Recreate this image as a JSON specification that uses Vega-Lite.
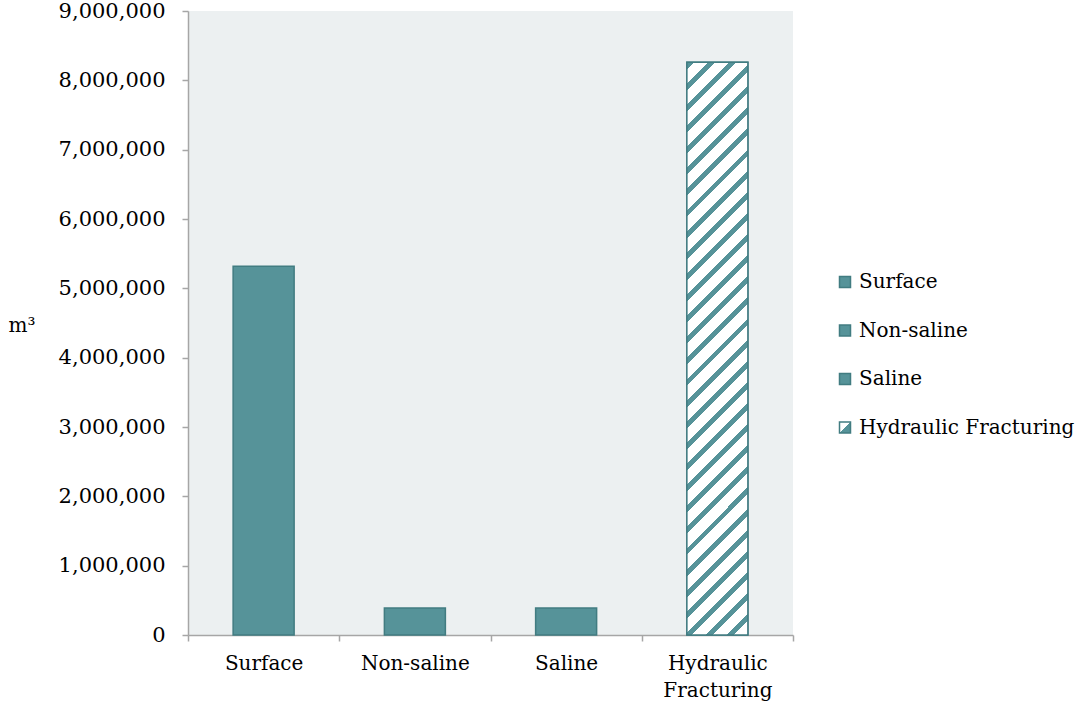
{
  "$schema": "https://vega.github.io/schema/vega-lite/v6.json",
  "autosize": "none",
  "width": 605,
  "height": 624,
  "padding": {"left": 188, "top": 11, "right": 290, "bottom": 73},
  "background": "white",
  "data": {
    "values": [
      {"cat": "Surface", "value": 5320000},
      {"cat": "Non-saline", "value": 390000},
      {"cat": "Saline", "value": 390000},
      {"cat": "Hydraulic Fracturing", "value": 8260000}
    ]
  },
  "encoding": {
    "x": {
      "field": "cat", "type": "nominal", "sort": null,
      "scale": {"domain": ["Surface", "Non-saline", "Saline", "Hydraulic Fracturing"], "paddingInner": 0, "paddingOuter": 0},
      "axis": {
        "title": null, "labelAngle": 0, "tickBand": "extent",
        "domainColor": "#a6a6a6", "domainWidth": 1.5, "tickColor": "#a6a6a6", "tickWidth": 1.5, "tickSize": 6,
        "labelFont": "DejaVu Serif", "labelFontSize": 20, "labelColor": "#000000", "labelPadding": 12,
        "labelLineHeight": 27,
        "labelExpr": "datum.label == 'Hydraulic Fracturing' ? ['Hydraulic', 'Fracturing'] : datum.label"
      }
    },
    "y": {
      "field": "value", "type": "quantitative",
      "scale": {"domain": [0, 9000000], "nice": false},
      "axis": {
        "values": [0, 1000000, 2000000, 3000000, 4000000, 5000000, 6000000, 7000000, 8000000, 9000000],
        "format": ",.0f", "grid": false,
        "domainColor": "#a6a6a6", "domainWidth": 1.5, "tickColor": "#a6a6a6", "tickWidth": 1.5, "tickSize": 6,
        "labelFont": "DejaVu Serif", "labelFontSize": 21, "labelColor": "#000000", "labelPadding": 17,
        "title": "m³", "titleAngle": 0, "titleX": -180, "titleY": 314, "titleAlign": "left", "titleBaseline": "middle",
        "titleFont": "DejaVu Serif", "titleFontSize": 20, "titleFontWeight": "normal", "titleColor": "#000000"
      }
    }
  },
  "layer": [
    {
      "mark": {"type": "bar", "size": 61, "strokeWidth": 1.5},
      "encoding": {
        "fill": {
          "field": "cat", "type": "nominal", "legend": null,
          "scale": {
            "domain": ["Hydraulic Fracturing", "Saline", "Non-saline", "Surface"],
            "range": ["#569399", "#569399", "#569399", "#569399"]
          }
        },
        "stroke": {
          "field": "cat", "type": "nominal",
          "scale": {
            "domain": ["Surface", "Non-saline", "Saline", "Hydraulic Fracturing"],
            "range": ["#417c81", "#417c81", "#417c81", "#417c81"]
          },
          "legend": {
            "title": null, "orient": "none", "legendX": 647, "legendY": 261,
            "symbolType": "square", "symbolSize": 121, "symbolStrokeWidth": 1.5,
            "symbolFillColor": {"expr": "datum.value === 'Hydraulic Fracturing' ? {gradient: 'linear', x1: 0, y1: 0, x2: 1, y2: 1, stops: [{offset: 0, color: '#ffffff'}, {offset: 0.5, color: '#ffffff'}, {offset: 0.5, color: '#569399'}, {offset: 1, color: '#569399'}]} : '#569399'"},
            "labelFont": "DejaVu Serif", "labelFontSize": 20, "labelColor": "#000000", "labelOffset": 4,
            "rowPadding": 28.5, "padding": 0, "labelLimit": 400
          }
        }
      }
    },
    {
      "transform": [{"filter": "datum.cat == 'Hydraulic Fracturing'"}],
      "mark": {
        "type": "bar", "size": 61, "stroke": "#417c81", "strokeWidth": 1.5,
        "fill": {
          "gradient": "linear", "x1": 0, "y1": 0, "x2": 0.11654, "y2": 1.09403,
          "stops": [
            {"offset": 0, "color": "#569399"}, {"offset": 0.011, "color": "#569399"}, {"offset": 0.011, "color": "#ffffff"}, {"offset": 0.0333, "color": "#ffffff"},
            {"offset": 0.0333, "color": "#569399"}, {"offset": 0.0443, "color": "#569399"}, {"offset": 0.0443, "color": "#ffffff"}, {"offset": 0.0667, "color": "#ffffff"},
            {"offset": 0.0667, "color": "#569399"}, {"offset": 0.0777, "color": "#569399"}, {"offset": 0.0777, "color": "#ffffff"}, {"offset": 0.1, "color": "#ffffff"},
            {"offset": 0.1, "color": "#569399"}, {"offset": 0.111, "color": "#569399"}, {"offset": 0.111, "color": "#ffffff"}, {"offset": 0.1333, "color": "#ffffff"},
            {"offset": 0.1333, "color": "#569399"}, {"offset": 0.1443, "color": "#569399"}, {"offset": 0.1443, "color": "#ffffff"}, {"offset": 0.1667, "color": "#ffffff"},
            {"offset": 0.1667, "color": "#569399"}, {"offset": 0.1777, "color": "#569399"}, {"offset": 0.1777, "color": "#ffffff"}, {"offset": 0.2, "color": "#ffffff"},
            {"offset": 0.2, "color": "#569399"}, {"offset": 0.211, "color": "#569399"}, {"offset": 0.211, "color": "#ffffff"}, {"offset": 0.2333, "color": "#ffffff"},
            {"offset": 0.2333, "color": "#569399"}, {"offset": 0.2443, "color": "#569399"}, {"offset": 0.2443, "color": "#ffffff"}, {"offset": 0.2667, "color": "#ffffff"},
            {"offset": 0.2667, "color": "#569399"}, {"offset": 0.2777, "color": "#569399"}, {"offset": 0.2777, "color": "#ffffff"}, {"offset": 0.3, "color": "#ffffff"},
            {"offset": 0.3, "color": "#569399"}, {"offset": 0.311, "color": "#569399"}, {"offset": 0.311, "color": "#ffffff"}, {"offset": 0.3333, "color": "#ffffff"},
            {"offset": 0.3333, "color": "#569399"}, {"offset": 0.3443, "color": "#569399"}, {"offset": 0.3443, "color": "#ffffff"}, {"offset": 0.3667, "color": "#ffffff"},
            {"offset": 0.3667, "color": "#569399"}, {"offset": 0.3777, "color": "#569399"}, {"offset": 0.3777, "color": "#ffffff"}, {"offset": 0.4, "color": "#ffffff"},
            {"offset": 0.4, "color": "#569399"}, {"offset": 0.411, "color": "#569399"}, {"offset": 0.411, "color": "#ffffff"}, {"offset": 0.4333, "color": "#ffffff"},
            {"offset": 0.4333, "color": "#569399"}, {"offset": 0.4443, "color": "#569399"}, {"offset": 0.4443, "color": "#ffffff"}, {"offset": 0.4667, "color": "#ffffff"},
            {"offset": 0.4667, "color": "#569399"}, {"offset": 0.4777, "color": "#569399"}, {"offset": 0.4777, "color": "#ffffff"}, {"offset": 0.5, "color": "#ffffff"},
            {"offset": 0.5, "color": "#569399"}, {"offset": 0.511, "color": "#569399"}, {"offset": 0.511, "color": "#ffffff"}, {"offset": 0.5333, "color": "#ffffff"},
            {"offset": 0.5333, "color": "#569399"}, {"offset": 0.5443, "color": "#569399"}, {"offset": 0.5443, "color": "#ffffff"}, {"offset": 0.5667, "color": "#ffffff"},
            {"offset": 0.5667, "color": "#569399"}, {"offset": 0.5777, "color": "#569399"}, {"offset": 0.5777, "color": "#ffffff"}, {"offset": 0.6, "color": "#ffffff"},
            {"offset": 0.6, "color": "#569399"}, {"offset": 0.611, "color": "#569399"}, {"offset": 0.611, "color": "#ffffff"}, {"offset": 0.6333, "color": "#ffffff"},
            {"offset": 0.6333, "color": "#569399"}, {"offset": 0.6443, "color": "#569399"}, {"offset": 0.6443, "color": "#ffffff"}, {"offset": 0.6667, "color": "#ffffff"},
            {"offset": 0.6667, "color": "#569399"}, {"offset": 0.6777, "color": "#569399"}, {"offset": 0.6777, "color": "#ffffff"}, {"offset": 0.7, "color": "#ffffff"},
            {"offset": 0.7, "color": "#569399"}, {"offset": 0.711, "color": "#569399"}, {"offset": 0.711, "color": "#ffffff"}, {"offset": 0.7333, "color": "#ffffff"},
            {"offset": 0.7333, "color": "#569399"}, {"offset": 0.7443, "color": "#569399"}, {"offset": 0.7443, "color": "#ffffff"}, {"offset": 0.7667, "color": "#ffffff"},
            {"offset": 0.7667, "color": "#569399"}, {"offset": 0.7777, "color": "#569399"}, {"offset": 0.7777, "color": "#ffffff"}, {"offset": 0.8, "color": "#ffffff"},
            {"offset": 0.8, "color": "#569399"}, {"offset": 0.811, "color": "#569399"}, {"offset": 0.811, "color": "#ffffff"}, {"offset": 0.8333, "color": "#ffffff"},
            {"offset": 0.8333, "color": "#569399"}, {"offset": 0.8443, "color": "#569399"}, {"offset": 0.8443, "color": "#ffffff"}, {"offset": 0.8667, "color": "#ffffff"},
            {"offset": 0.8667, "color": "#569399"}, {"offset": 0.8777, "color": "#569399"}, {"offset": 0.8777, "color": "#ffffff"}, {"offset": 0.9, "color": "#ffffff"},
            {"offset": 0.9, "color": "#569399"}, {"offset": 0.911, "color": "#569399"}, {"offset": 0.911, "color": "#ffffff"}, {"offset": 0.9333, "color": "#ffffff"},
            {"offset": 0.9333, "color": "#569399"}, {"offset": 0.9443, "color": "#569399"}, {"offset": 0.9443, "color": "#ffffff"}, {"offset": 0.9667, "color": "#ffffff"},
            {"offset": 0.9667, "color": "#569399"}, {"offset": 0.9777, "color": "#569399"}, {"offset": 0.9777, "color": "#ffffff"}, {"offset": 1, "color": "#ffffff"}
          ]
        }
      }
    }
  ],
  "config": {
    "view": {"fill": "#ecf0f1", "stroke": null}
  }
}
